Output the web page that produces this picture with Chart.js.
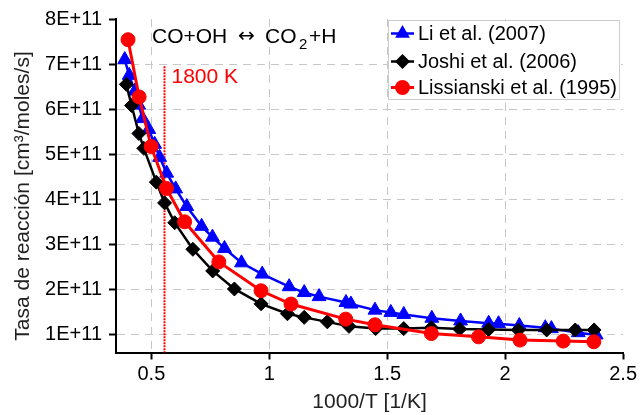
<!DOCTYPE html>
<html><head><meta charset="utf-8">
<script src="https://cdn.jsdelivr.net/npm/chart.js@4/dist/chart.umd.min.js"></script>
<style>html,body{margin:0;padding:0;background:#fff}#c{display:block}</style>
</head><body>
<canvas id="c" width="640" height="415"></canvas>
<script>
const FONT = "'Liberation Sans', Arial, sans-serif";

// Series names
const seriesNames = ["Li et al. (2007)", "Joshi et al. (2006)", "Lissianski et al. (1995)"];

// Li et al. (2007) — x: 1000/T [1/K], y: rate [cm3/moles/s]
const liX = [0.387,0.406,0.430,0.446,0.463,0.489,0.514,0.535,0.565,0.603,0.650,0.713,0.759,0.810,0.882,0.970,1.084,1.148,1.211,1.325,1.346,1.448,1.515,1.570,1.689,1.811,1.930,1.972,2.060,2.170,2.196,2.310,2.386];
const liY = [7.10e11,6.75e11,6.40e11,6.09e11,5.79e11,5.55e11,5.22e11,4.93e11,4.58e11,4.23e11,3.84e11,3.40e11,3.16e11,2.91e11,2.59e11,2.34e11,2.06e11,1.93e11,1.84e11,1.71e11,1.675e11,1.54e11,1.49e11,1.445e11,1.36e11,1.30e11,1.25e11,1.24e11,1.20e11,1.15e11,1.13e11,1.04e11,0.99e11];

// Joshi et al. (2006)
const joX = [0.394,0.416,0.447,0.468,0.521,0.556,0.599,0.676,0.760,0.852,0.965,1.077,1.148,1.246,1.338,1.451,1.570,1.687,1.807,1.930,2.056,2.176,2.297,2.377];
const joY = [6.55e11,6.08e11,5.46e11,5.13e11,4.38e11,3.92e11,3.48e11,2.89e11,2.41e11,2.01e11,1.68e11,1.46e11,1.38e11,1.28e11,1.18e11,1.13e11,1.13e11,1.15e11,1.12e11,1.11e11,1.10e11,1.10e11,1.10e11,1.10e11];

// Lissianski et al. (1995)
const lsX = [0.401,0.448,0.499,0.564,0.641,0.786,0.965,1.092,1.324,1.448,1.687,1.887,2.063,2.246,2.376];
const lsY = [7.54e11,6.27e11,5.17e11,4.24e11,3.50e11,2.61e11,1.97e11,1.675e11,1.34e11,1.215e11,1.02e11,0.947e11,0.875e11,0.853e11,0.838e11];

// Axis settings and tick labels
const xMin = 0.35, xMax = 2.5;
const yMin = 0.6e11, yMax = 8e11;
const xTicks = [0.5, 1, 1.5, 2, 2.5];
const xTickLabels = ["0.5", "1", "1.5", "2", "2.5"];
const yTicks = [1e11, 2e11, 3e11, 4e11, 5e11, 6e11, 7e11, 8e11];
const yTickLabels = ["1E+11", "2E+11", "3E+11", "4E+11", "5E+11", "6E+11", "7E+11", "8E+11"];
const xTitle = "1000/T [1/K]";
const yTitle = "Tasa de reacción [cm³/moles/s]";

// Annotations
const reactionParts = ["CO+OH", "↔", "CO", "2", "+H"];
const markTemp = 1800; // K
const markLabel = "1800 K";
const markTop = 6.95e11;

const pts = (xs, ys) => xs.map((x, i) => ({x, y: ys[i]}));

const styles = [
  {color:'#0000ff', shape:'triangle', r:8, lw:2.5},
  {color:'#000000', shape:'rectRot', r:7, lw:2.5},
  {color:'#ff0000', shape:'circle', r:7, lw:3}
];

function drawMarker(ctx, shape, x, y, r, color){
  ctx.save();
  ctx.fillStyle = color;
  ctx.beginPath();
  if (shape === 'triangle') {
    ctx.moveTo(x, y - r);
    ctx.lineTo(x + r*Math.sin(2*Math.PI/3), y - r*Math.cos(2*Math.PI/3));
    ctx.lineTo(x - r*Math.sin(2*Math.PI/3), y - r*Math.cos(2*Math.PI/3));
  } else if (shape === 'rectRot') {
    ctx.moveTo(x - r, y); ctx.lineTo(x, y - r); ctx.lineTo(x + r, y); ctx.lineTo(x, y + r);
  } else {
    ctx.arc(x, y, r, 0, Math.PI*2);
  }
  ctx.closePath();
  ctx.fill();
  ctx.restore();
}

const markPlugin = {
  id: 'markLine',
  beforeDatasetsDraw(chart){
    const {ctx, scales:{x, y}} = chart;
    const px = x.getPixelForValue(1000/markTemp);
    ctx.save();
    ctx.strokeStyle = '#ff0000';
    ctx.lineWidth = 2;
    ctx.setLineDash([2,1]);
    ctx.beginPath();
    ctx.moveTo(px, y.getPixelForValue(markTop));
    ctx.lineTo(px, y.getPixelForValue(yMin));
    ctx.stroke();
    ctx.restore();
  },
  afterDraw(chart){
    const {ctx, scales:{x, y}, chartArea} = chart;
    ctx.save();
    // y axis title
    ctx.save();
    ctx.translate(29, 196);
    ctx.rotate(-Math.PI/2);
    ctx.fillStyle = '#222';
    ctx.font = '21px ' + FONT;
    ctx.textAlign = 'center';
    ctx.textBaseline = 'alphabetic';
    ctx.fillText(yTitle, 0, 0);
    ctx.restore();
    // reaction label
    ctx.fillStyle = '#000';
    ctx.textBaseline = 'alphabetic';
    ctx.textAlign = 'left';
    const ty = 43;
    ctx.font = '21px ' + FONT;
    ctx.fillText(reactionParts[0], 152, ty);
    ctx.font = "20px 'DejaVu Sans', sans-serif";
    ctx.fillText(reactionParts[1], 238, ty - 1);
    ctx.font = '21px ' + FONT;
    ctx.fillText(reactionParts[2], 265, ty);
    ctx.font = '15px ' + FONT;
    ctx.fillText(reactionParts[3], 299, ty + 6);
    ctx.font = '21px ' + FONT;
    ctx.fillText(reactionParts[4], 309, ty);
    // 1800 K label
    const px = x.getPixelForValue(1000/markTemp);
    ctx.fillStyle = '#ff0000';
    ctx.font = '21px ' + FONT;
    ctx.fillText(markLabel, px + 7, 83);
    // legend
    const bx = 388, by = 20, bw = 231, bh = 79;
    ctx.fillStyle = '#fff';
    ctx.fillRect(bx, by, bw, bh);
    ctx.strokeStyle = '#cccccc';
    ctx.lineWidth = 1;
    ctx.strokeRect(bx + 0.5, by + 0.5, bw, bh);
    const rows = [33.5, 61.5, 87.5];
    ctx.font = '20px ' + FONT;
    ctx.textBaseline = 'middle';
    seriesNames.forEach((name, i) => {
      const s = styles[i], ry = rows[i];
      ctx.strokeStyle = s.color;
      ctx.lineWidth = s.lw;
      ctx.beginPath(); ctx.moveTo(391, ry); ctx.lineTo(414, ry); ctx.stroke();
      drawMarker(ctx, s.shape, 402.5, ry, s.r + 0.5, s.color);
      ctx.fillStyle = '#000';
      ctx.fillText(name, 418, ry + 1);
    });
    ctx.restore();
  }
};

const series = [pts(liX, liY), pts(joX, joY), pts(lsX, lsY)];
const datasets = series.map((d, i) => ({
  label: seriesNames[i],
  data: d,
  borderColor: styles[i].color,
  backgroundColor: styles[i].color,
  borderWidth: styles[i].lw,
  pointStyle: styles[i].shape,
  pointRadius: styles[i].r,
  pointBorderWidth: 1,
  pointBorderColor: styles[i].color,
  pointBackgroundColor: styles[i].color,
  tension: 0,
  fill: false,
  order: 3 - i
}));

new Chart(document.getElementById('c'), {
  type: 'line',
  data: { datasets },
  options: {
    responsive: false,
    animation: false,
    devicePixelRatio: 1,
    layout: { padding: { top: 15, right: 15, left: 0, bottom: 0 } },
    plugins: { legend: { display: false }, tooltip: { enabled: false } },
    scales: {
      x: {
        type: 'linear', position: 'bottom',
        min: xMin, max: xMax,
        afterFit: s => { s.height = 62.5; },
        afterBuildTicks: s => { s.ticks = xTicks.map(v => ({value: v})); },
        ticks: {
          color: '#000', padding: 3, autoSkip: false, maxRotation: 0,
          font: { family: FONT, size: 20 },
          callback: (v) => xTickLabels[xTicks.indexOf(v)] ?? String(v)
        },
        grid: {
          color: c => (c.tick && c.tick.value >= xMax - 1e-9) ? 'rgba(0,0,0,0)' : '#c8c8c8',
          lineWidth: 1, tickLength: 7, tickColor: '#000', tickWidth: 2, drawTicks: true
        },
        border: { display: true, color: '#000', width: 2, dash: [8, 6] },
        title: { display: true, text: xTitle, color: '#222', font: { family: FONT, size: 21 }, padding: { top: 2, bottom: 0 } }
      },
      y: {
        type: 'linear', position: 'left',
        min: yMin, max: yMax,
        afterFit: s => { s.width = 116; },
        afterBuildTicks: s => { s.ticks = yTicks.map(v => ({value: v})); },
        ticks: {
          color: '#000', padding: 7, autoSkip: false,
          font: { family: FONT, size: 20 },
          callback: (v) => yTickLabels[yTicks.indexOf(v)] ?? String(v)
        },
        grid: {
          color: c => (c.tick && c.tick.value >= yMax - 1) ? 'rgba(0,0,0,0)' : '#c8c8c8',
          lineWidth: 1, tickLength: 7, tickColor: '#000', tickWidth: 2, drawTicks: true
        },
        border: { display: true, color: '#000', width: 2, dash: [8, 6] },
        title: { display: false }
      }
    }
  },
  plugins: [markPlugin]
});
</script>
</body></html>
